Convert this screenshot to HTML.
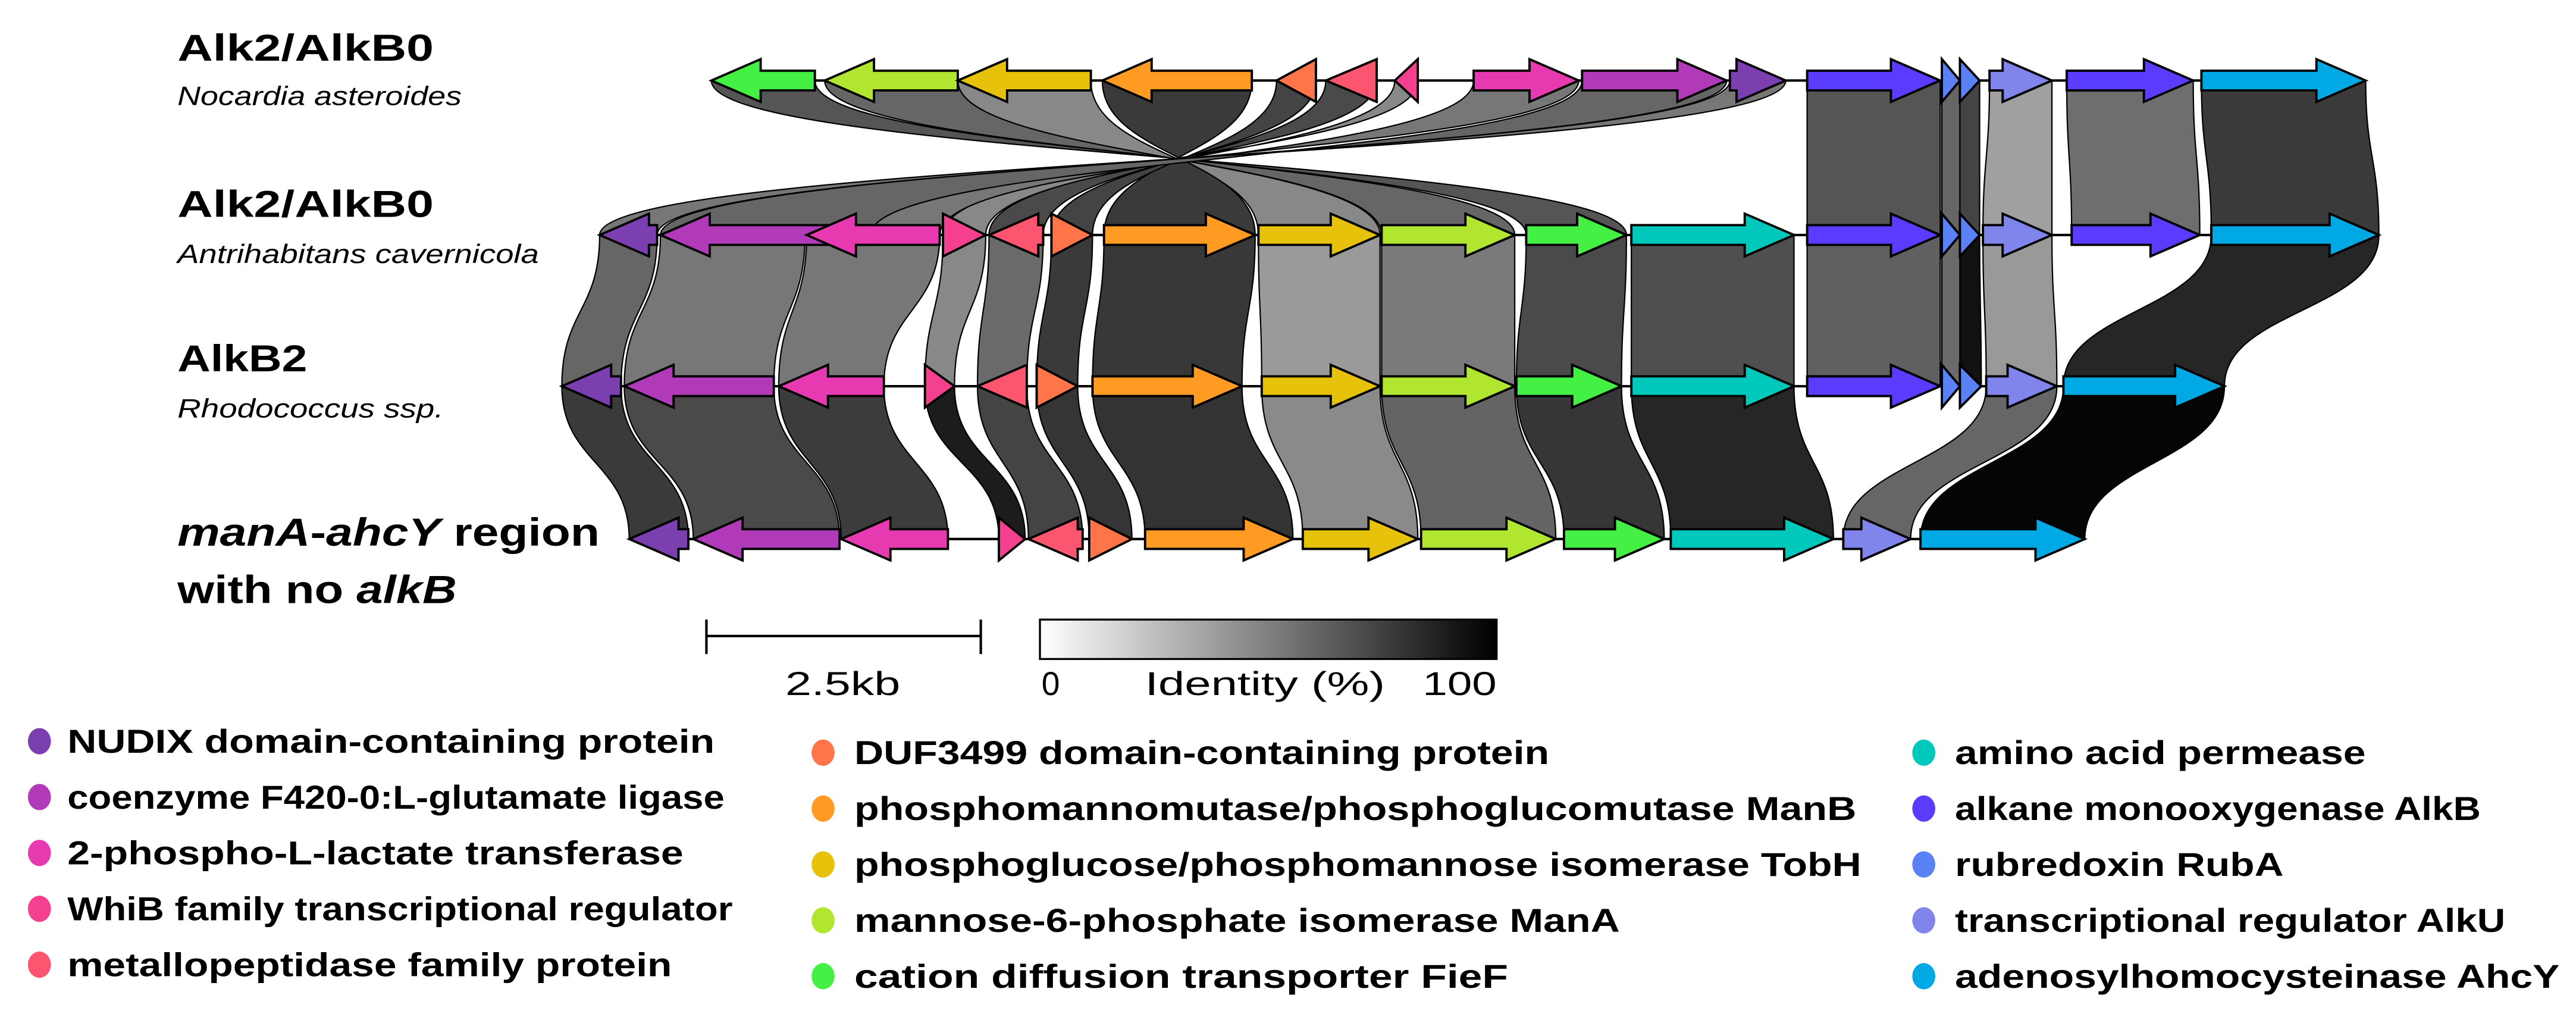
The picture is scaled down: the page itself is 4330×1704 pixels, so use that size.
<!DOCTYPE html>
<html><head><meta charset="utf-8"><style>
html,body{margin:0;padding:0;background:#fff;}
svg{display:block;}
text{font-family:"Liberation Sans","DejaVu Sans",sans-serif;fill:#000;}
</style></head><body>
<svg id="s" width="4330" height="1704" viewBox="0 0 1568 617" preserveAspectRatio="none" xmlns="http://www.w3.org/2000/svg">
<g id="rib"></g>
<g id="lines" stroke="#000" stroke-width="1.5">
<line x1="433" y1="49" x2="1440" y2="49"/>
<line x1="365" y1="143" x2="1448" y2="143"/>
<line x1="342" y1="235" x2="1354" y2="235"/>
<line x1="383" y1="328" x2="1269" y2="328"/>
</g>
<g id="genes" stroke="#000" stroke-width="1.4" stroke-linejoin="miter"></g>

<text x="108" y="37" font-size="23" font-weight="bold" textLength="156" lengthAdjust="spacingAndGlyphs">Alk2/AlkB0</text>
<text x="108" y="64" font-size="16" font-style="italic" textLength="173" lengthAdjust="spacingAndGlyphs">Nocardia asteroides</text>
<text x="108" y="132" font-size="23" font-weight="bold" textLength="156" lengthAdjust="spacingAndGlyphs">Alk2/AlkB0</text>
<text x="108" y="160" font-size="16" font-style="italic" textLength="220" lengthAdjust="spacingAndGlyphs">Antrihabitans cavernicola</text>
<text x="108" y="226" font-size="23" font-weight="bold" textLength="79" lengthAdjust="spacingAndGlyphs">AlkB2</text>
<text x="108" y="254" font-size="16" font-style="italic" textLength="162" lengthAdjust="spacingAndGlyphs">Rhodococcus ssp.</text>
<text x="108" y="332" font-size="24" font-weight="bold" textLength="257" lengthAdjust="spacingAndGlyphs"><tspan font-style="italic">manA</tspan>-<tspan font-style="italic">ahcY</tspan> region</text>
<text x="108" y="367" font-size="24" font-weight="bold" textLength="170" lengthAdjust="spacingAndGlyphs">with no <tspan font-style="italic">alkB</tspan></text>

<g stroke="#000" stroke-width="1.5">
<line x1="430" y1="387" x2="597" y2="387"/>
<line x1="430" y1="377" x2="430" y2="398"/>
<line x1="597" y1="377" x2="597" y2="398"/>
</g>
<defs><linearGradient id="gr" x1="0" x2="1" y1="0" y2="0"><stop offset="0" stop-color="#fff"/><stop offset="1" stop-color="#000"/></linearGradient></defs>
<rect x="633" y="377" width="278" height="24" fill="url(#gr)" stroke="#000" stroke-width="1.2"/>
<text x="478" y="423" font-size="20" textLength="70" lengthAdjust="spacingAndGlyphs">2.5kb</text>
<text x="634" y="423" font-size="20">0</text>
<text x="697" y="423" font-size="20" textLength="146" lengthAdjust="spacingAndGlyphs">Identity (%)</text>
<text x="866" y="423" font-size="20" textLength="45" lengthAdjust="spacingAndGlyphs">100</text>

<g font-size="20" font-weight="bold">
<ellipse cx="24" cy="451" rx="7" ry="8" fill="#7b3fb0"/><text x="41" y="458" textLength="394" lengthAdjust="spacingAndGlyphs">NUDIX domain-containing protein</text>
<ellipse cx="24" cy="485" rx="7" ry="8" fill="#b03ab8"/><text x="41" y="492" textLength="400" lengthAdjust="spacingAndGlyphs">coenzyme F420-0:L-glutamate ligase</text>
<ellipse cx="24" cy="519" rx="7" ry="8" fill="#e83ab0"/><text x="41" y="526" textLength="375" lengthAdjust="spacingAndGlyphs">2-phospho-L-lactate transferase</text>
<ellipse cx="24" cy="553" rx="7" ry="8" fill="#f5408f"/><text x="41" y="560" textLength="405" lengthAdjust="spacingAndGlyphs">WhiB family transcriptional regulator</text>
<ellipse cx="24" cy="587" rx="7" ry="8" fill="#fc5570"/><text x="41" y="594" textLength="368" lengthAdjust="spacingAndGlyphs">metallopeptidase family protein</text>

<ellipse cx="501" cy="458" rx="7" ry="8" fill="#ff7448"/><text x="520" y="465" textLength="423" lengthAdjust="spacingAndGlyphs">DUF3499 domain-containing protein</text>
<ellipse cx="501" cy="492" rx="7" ry="8" fill="#ff9a22"/><text x="520" y="499" textLength="610" lengthAdjust="spacingAndGlyphs">phosphomannomutase/phosphoglucomutase ManB</text>
<ellipse cx="501" cy="526" rx="7" ry="8" fill="#e6c20a"/><text x="520" y="533" textLength="613" lengthAdjust="spacingAndGlyphs">phosphoglucose/phosphomannose isomerase TobH</text>
<ellipse cx="501" cy="560" rx="7" ry="8" fill="#b0e630"/><text x="520" y="567" textLength="466" lengthAdjust="spacingAndGlyphs">mannose-6-phosphate isomerase ManA</text>
<ellipse cx="501" cy="594" rx="7" ry="8" fill="#44f044"/><text x="520" y="601" textLength="398" lengthAdjust="spacingAndGlyphs">cation diffusion  transporter FieF</text>

<ellipse cx="1171" cy="458" rx="7" ry="8" fill="#00c9bb"/><text x="1190" y="465" textLength="250" lengthAdjust="spacingAndGlyphs">amino acid permease</text>
<ellipse cx="1171" cy="492" rx="7" ry="8" fill="#5a3cff"/><text x="1190" y="499" textLength="320" lengthAdjust="spacingAndGlyphs">alkane monooxygenase AlkB</text>
<ellipse cx="1171" cy="526" rx="7" ry="8" fill="#5a82f5"/><text x="1190" y="533" textLength="200" lengthAdjust="spacingAndGlyphs">rubredoxin RubA</text>
<ellipse cx="1171" cy="560" rx="7" ry="8" fill="#7f85ea"/><text x="1190" y="567" textLength="335" lengthAdjust="spacingAndGlyphs">transcriptional regulator AlkU</text>
<ellipse cx="1171" cy="594" rx="7" ry="8" fill="#00a8e4"/><text x="1190" y="601" textLength="368" lengthAdjust="spacingAndGlyphs">adenosylhomocysteinase AhcY</text>
</g>
</svg>
<script>
var NS="http://www.w3.org/2000/svg";
var C={nud:"#7b3fb0",coe:"#b03ab8",pho:"#e83ab0",whi:"#f5408f",met:"#fc5570",duf:"#ff7448",man:"#ff9a22",tob:"#e6c20a",mana:"#b0e630",fie:"#44f044",aa:"#00c9bb",alk:"#5a3cff",rub:"#5a82f5",alku:"#7f85ea",ahc:"#00a8e4"};
var Y=[49,143,235,328];
function el(t,a,p){var e=document.createElementNS(NS,t);for(var k in a)e.setAttribute(k,a[k]);document.getElementById(p).appendChild(e);}
function gene(r,x1,x2,d,c){var y=Y[r],L=x2-x1,h=Math.min(30,L),b=6,H=13,pts;
 if(L<=32){pts=d>0?[[x1,y-H],[x2,y],[x1,y+H]]:[[x2,y-H],[x1,y],[x2,y+H]];}
 else if(d>0){pts=[[x1,y-b],[x2-h,y-b],[x2-h,y-H],[x2,y],[x2-h,y+H],[x2-h,y+b],[x1,y+b]];}
 else{pts=[[x2,y-b],[x1+h,y-b],[x1+h,y-H],[x1,y],[x1+h,y+H],[x1+h,y+b],[x2,y+b]];}
 el("polygon",{points:pts.map(function(p){return p.join(",")}).join(" "),fill:C[c]},"genes");}
function rib(r,a1,b1,a2,b2,f,inv){var y1=Y[r],y2=Y[r+1],m=(y1+y2)/2;
 var L2=inv?b2:a2,R2=inv?a2:b2;
 var d="M"+a1+","+y1+" L"+b1+","+y1+" C"+b1+","+m+" "+R2+","+m+" "+R2+","+y2+" L"+L2+","+y2+" C"+L2+","+m+" "+a1+","+m+" "+a1+","+y1+" Z";
 el("path",{d:d,fill:f,stroke:"#000","stroke-width":"0.8"},"rib");}
[[433,496,929,990,"#555"],[502,583,841,922,"#666"],[583,664,766,840,"#888"],[671,762,672,764,"#3a3a3a"],[777,801,640,665,"#444"],[807,838,602,635,"#4a4a4a"],[849,863,574,600,"#888"],[897,961,491,572,"#777"],[963,1051,402,530,"#666"],[1053,1087,365,400,"#777"]].forEach(function(q){rib(0,q[0],q[1],q[2],q[3],q[4],true);});
[[1100,1181,1100,1181,"#555"],[1182,1193,1182,1193,"#666"],[1193,1205,1193,1205,"#444"],[1211,1249,1207,1249,"#a0a0a0"],[1258,1335,1261,1339,"#6e6e6e"],[1340,1440,1346,1448,"#3a3a3a"]].forEach(function(q){rib(0,q[0],q[1],q[2],q[3],q[4],false);});
[[365,400,342,378,"#666"],[402,490,380,471,"#777"],[491,572,474,538,"#777"],[574,600,563,581,"#888"],[602,635,595,625,"#6a6a6a"],[640,665,631,656,"#3a3a3a"],[672,764,665,756,"#383838"],[766,840,768,840,"#9a9a9a"],[841,922,841,922,"#7a7a7a"],[929,990,923,987,"#4a4a4a"],[993,1092,993,1092,"#4f4f4f"],[1100,1181,1100,1181,"#606060"],[1182,1193,1182,1193,"#6a6a6a"],[1193,1205,1193,1206,"#111"],[1207,1249,1209,1252,"#999"],[1346,1448,1256,1354,"#262626"]].forEach(function(q){rib(1,q[0],q[1],q[2],q[3],q[4],false);});
[[342,378,383,419,"#3a3a3a"],[380,471,422,511,"#4a4a4a"],[474,538,512,577,"#3c3c3c"],[563,581,608,624,"#1c1c1c"],[595,625,626,659,"#444"],[631,656,663,689,"#353535"],[665,756,697,787,"#333"],[768,840,793,863,"#8a8a8a"],[841,922,865,947,"#646464"],[923,987,952,1013,"#363636"],[993,1092,1017,1116,"#262626"],[1209,1252,1122,1163,"#666"],[1256,1354,1169,1269,"#050505"]].forEach(function(q){rib(2,q[0],q[1],q[2],q[3],q[4],false);});
var G=[
[0,433,496,-1,"fie"],[0,502,583,-1,"mana"],[0,583,664,-1,"tob"],[0,671,762,-1,"man"],[0,777,801,-1,"duf"],[0,807,838,-1,"met"],[0,849,863,-1,"whi"],[0,897,961,1,"pho"],[0,963,1051,1,"coe"],[0,1053,1087,1,"nud"],[0,1100,1181,1,"alk"],[0,1182,1193,1,"rub"],[0,1193,1205,1,"rub"],[0,1211,1249,1,"alku"],[0,1258,1335,1,"alk"],[0,1340,1440,1,"ahc"],
[1,365,400,-1,"nud"],[1,402,530,-1,"coe"],[1,491,572,-1,"pho"],[1,574,600,1,"whi"],[1,602,635,-1,"met"],[1,640,665,1,"duf"],[1,672,764,1,"man"],[1,766,840,1,"tob"],[1,841,922,1,"mana"],[1,929,990,1,"fie"],[1,993,1092,1,"aa"],[1,1100,1181,1,"alk"],[1,1182,1193,1,"rub"],[1,1193,1205,1,"rub"],[1,1207,1249,1,"alku"],[1,1261,1339,1,"alk"],[1,1346,1448,1,"ahc"],
[2,342,378,-1,"nud"],[2,380,471,-1,"coe"],[2,474,538,-1,"pho"],[2,563,581,1,"whi"],[2,595,625,-1,"met"],[2,631,656,1,"duf"],[2,665,756,1,"man"],[2,768,840,1,"tob"],[2,841,922,1,"mana"],[2,923,987,1,"fie"],[2,993,1092,1,"aa"],[2,1100,1181,1,"alk"],[2,1182,1193,1,"rub"],[2,1193,1206,1,"rub"],[2,1209,1252,1,"alku"],[2,1256,1354,1,"ahc"],
[3,383,419,-1,"nud"],[3,422,511,-1,"coe"],[3,512,577,-1,"pho"],[3,608,624,1,"whi"],[3,626,659,-1,"met"],[3,663,689,1,"duf"],[3,697,787,1,"man"],[3,793,863,1,"tob"],[3,865,947,1,"mana"],[3,952,1013,1,"fie"],[3,1017,1116,1,"aa"],[3,1122,1163,1,"alku"],[3,1169,1269,1,"ahc"]];
G.forEach(function(g){gene(g[0],g[1],g[2],g[3],g[4]);});
</script>
</body></html>
